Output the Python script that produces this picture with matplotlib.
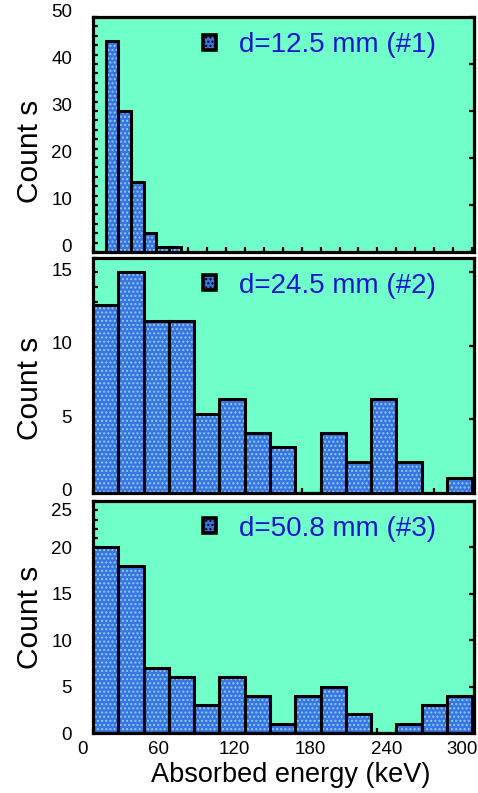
## Absorbed energy spectra for three detector distances, stacked panels

import matplotlib
matplotlib.use("Agg")
import matplotlib.pyplot as plt
import matplotlib.transforms as mtransforms
from matplotlib.patches import Patch
from matplotlib.ticker import MultipleLocator
import numpy as np

plt.rcParams['font.family'] = ['Liberation Sans', 'DejaVu Sans']

## histogram data (counts per bin, energies in keV)
edges_1 = np.arange(10, 71, 10)
counts_1 = [45, 30, 15, 4, 1, 1]

edges_2 = np.arange(0, 301, 20)
counts_2 = [12.8, 15.0, 11.7, 11.7, 5.4, 6.4, 4.1, 3.1, 0, 4.1, 2.1, 6.4, 2.1, 0, 1.0]

edges_3 = np.arange(0, 301, 20)
counts_3 = [20, 18, 7, 6, 3, 6, 4, 1, 4, 5, 2, 0, 1, 3, 4]

labels = ["d=12.5 mm (#1)", "d=24.5 mm (#2)", "d=50.8 mm (#3)"]
y_max = [50, 16, 25]
y_ticks = [[0, 10, 20, 30, 40, 50], [0, 5, 10, 15], [0, 5, 10, 15, 20, 25]]
y_minor = [2, 1, 1]
x_ticks = [0, 60, 120, 180, 240, 300]

bg = '#70ffc8'
fill = '#3a74e0'
dots = '#86cfff'
txt_blue = '#1414d2'

fig = plt.figure(figsize=(4.78, 7.93), dpi=100)
W, H = 478.0, 793.0
# panel boxes in pixels: (top, bottom)
boxes = [(17, 252), (257.5, 493), (501, 733)]
left, right = 93.0, 473.5
ylab_y = [0.43, 0.445, 0.5]

data = [(edges_1, counts_1), (edges_2, counts_2), (edges_3, counts_3)]
axes = []
for i, (top, bot) in enumerate(boxes):
    ax = fig.add_axes([left / W, 1 - bot / H, (right - left) / W, (bot - top) / H])
    ax.set_facecolor(bg)
    e, c = data[i]
    w = e[1] - e[0]
    ax.bar(e[:-1], c, width=w, align='edge', color=fill, edgecolor=dots,
           linewidth=0, hatch='....', zorder=2)
    ax.bar(e[:-1], c, width=w, align='edge', fill=False, edgecolor='black',
           linewidth=2.2, zorder=3)
    ax.set_xlim(0, 301)
    ax.set_ylim(0, y_max[i])
    ax.set_xticks(x_ticks)
    ax.xaxis.set_minor_locator(MultipleLocator(15))
    ax.set_yticks(y_ticks[i])
    ax.yaxis.set_minor_locator(MultipleLocator(y_minor[i]))
    ax.tick_params(which='both', direction='in', width=1.6, length=3.5,
                   labelsize=13.5, left=True, right=True, bottom=True, top=False)
    ax.tick_params(which='minor', right=False)
    ax.tick_params(axis='y', pad=15)
    ax.tick_params(axis='x', pad=6)
    for s in ax.spines.values():
        s.set_linewidth(2.3)
        s.set_zorder(5)
    ax.set_ylabel("Count s", fontsize=21.5)
    ax.yaxis.set_label_coords(-0.13, ylab_y[i])
    h = Patch(facecolor=fill, edgecolor='black', linewidth=2.6, hatch='....')
    leg = ax.legend([h], [labels[i]], loc='center left', bbox_to_anchor=(0.29, 0.88),
                    frameon=False, fontsize=20, handlelength=0.45, handleheight=0.45,
                    handletextpad=0.85, borderpad=0, borderaxespad=0)
    for t in leg.get_texts():
        t.set_color(txt_blue)
    if i < 2:
        ax.tick_params(axis='x', labelbottom=False)
    axes.append(ax)

axes[2].set_xlabel("Absorbed energy (keV)", fontsize=19.5)
axes[2].xaxis.set_label_coords(0.52, -0.125)

# tick labels sit a little off their ticks in the original
def shift(labs, dx_px, dy_px):
    off = mtransforms.ScaledTranslation(dx_px / 100, dy_px / 100, fig.dpi_scale_trans)
    for lab in labs:
        lab.set_transform(lab.get_transform() + off)

shift(axes[2].get_xticklabels(), -10, 0)
shift(axes[0].get_yticklabels(), 0, 7)
shift(axes[1].get_yticklabels(), 0, 3)
shift(axes[2].get_yticklabels()[-1:], 0, -9)

fig.savefig("out.png", dpi=100)
